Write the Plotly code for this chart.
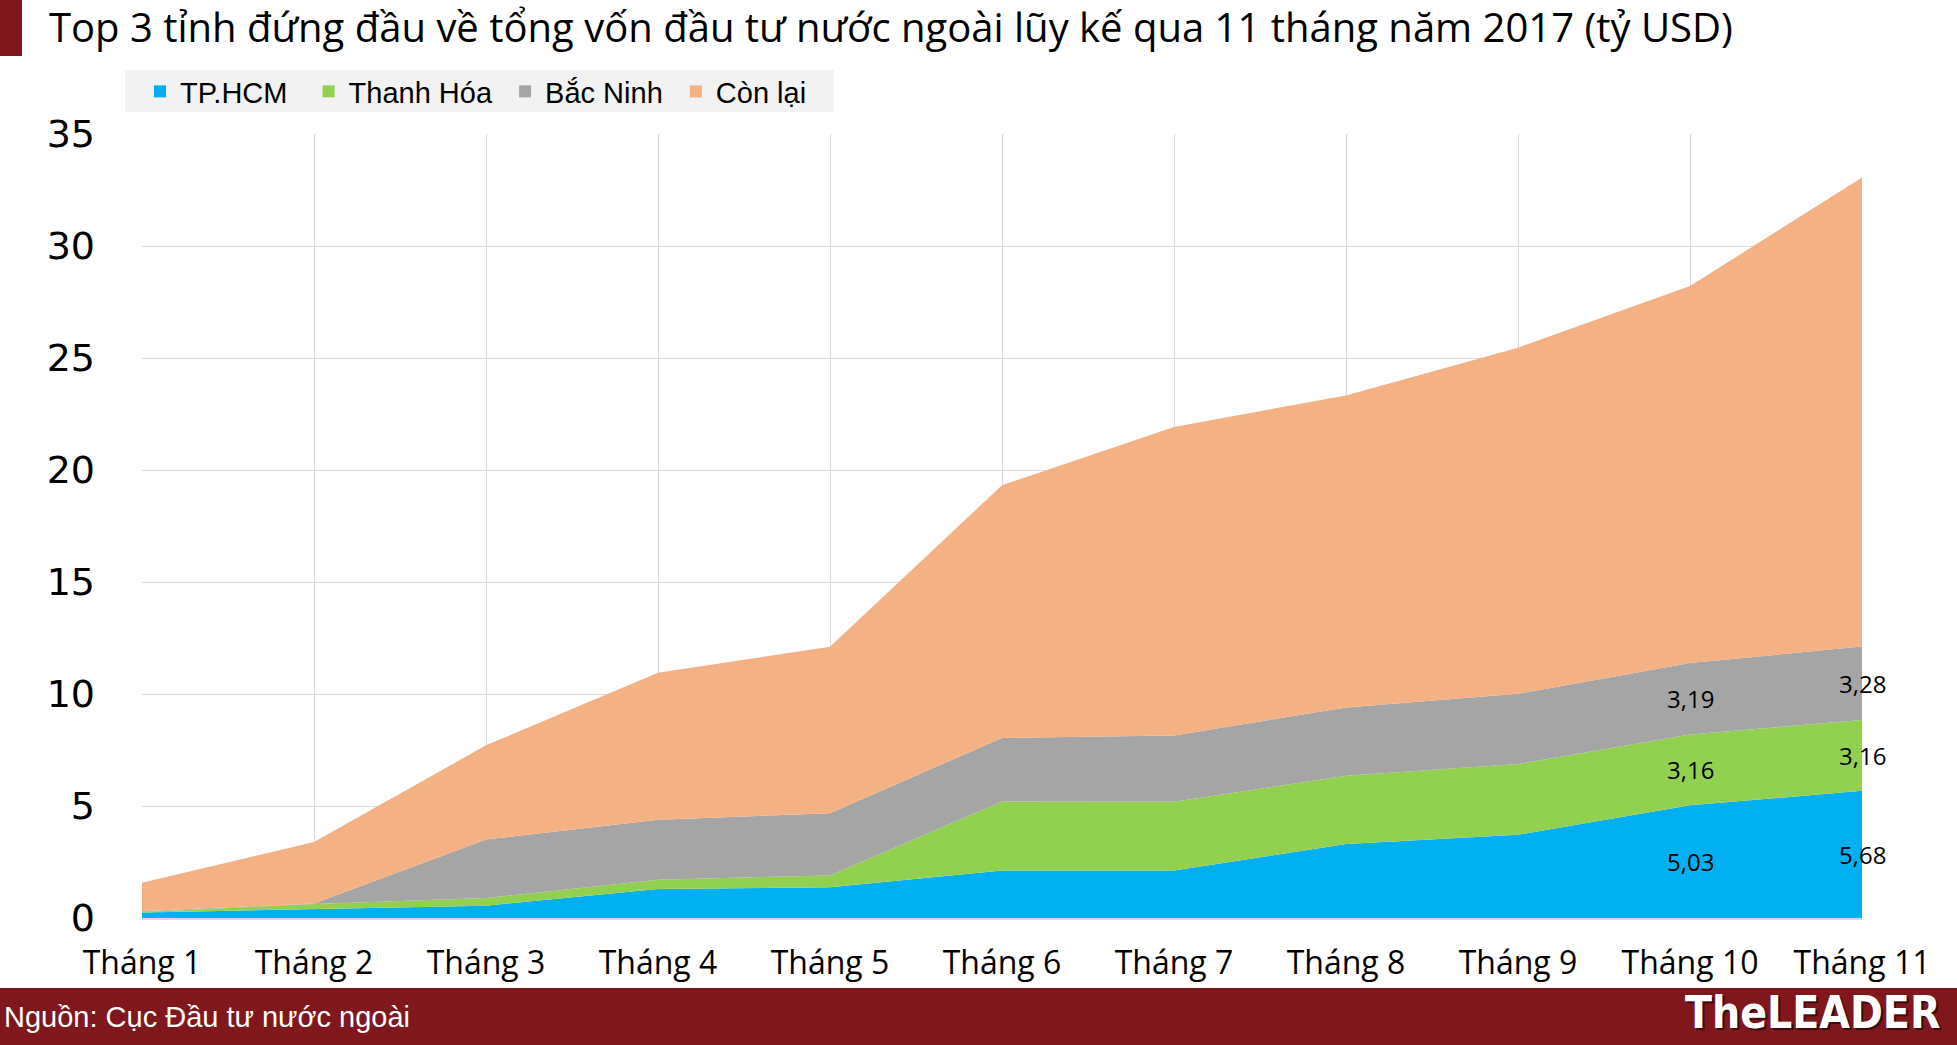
import plotly.graph_objects as go

# ---------------- data ----------------
months = ["Tháng 1", "Tháng 2", "Tháng 3", "Tháng 4", "Tháng 5", "Tháng 6",
          "Tháng 7", "Tháng 8", "Tháng 9", "Tháng 10", "Tháng 11"]
tphcm = [0.24, 0.40, 0.55, 1.29, 1.37, 2.12, 2.12, 3.30, 3.72, 5.03, 5.68]
thanh_hoa = [0.03, 0.22, 0.34, 0.42, 0.53, 3.08, 3.07, 3.05, 3.15, 3.16, 3.16]
bac_ninh = [0.03, 0.03, 2.61, 2.68, 2.78, 2.84, 2.96, 3.05, 3.14, 3.19, 3.28]
con_lai = [1.27, 2.74, 4.21, 6.56, 7.43, 11.28, 13.77, 13.93, 15.45, 16.83, 20.94]
series_names = ["TP.HCM", "Thanh Hóa", "Bắc Ninh", "Còn lại"]
y_ticks = [0, 5, 10, 15, 20, 25, 30, 35]
labelled_months = ["Tháng 10", "Tháng 11"]

title_text = "Top 3 tỉnh đứng đầu về tổng vốn đầu tư nước ngoài lũy kế qua 11 tháng năm 2017 (tỷ USD)"
source_text = "Nguồn: Cục Đầu tư nước ngoài"
brand_text = "TheLEADER"

# ---------------- layout geometry ----------------
W, H = 1957, 1045
L, R, T, B = 142, 1862, 134, 918  # plot area in px


def px_x(px):
    return (px - L) / (R - L)


def px_y(py):
    return (B - py) / (B - T)


colors = ["#00b0f0", "#92d050", "#a5a5a5", "#f4b183"]
series = [tphcm, thanh_hoa, bac_ninh, con_lai]
legend_pad = ["\u00a0\u00a0", "\u00a0", "\u00a0", ""]

fig = go.Figure()
for name, vals, col in zip(series_names, series, colors):
    fig.add_trace(go.Scatter(
        x=months, y=vals, name=name, mode="lines", stackgroup="one",
        line=dict(width=0, color=col), fillcolor=col, showlegend=False,
        hoverinfo="x+y+name"))

# legend entries as small squares
for name, col, pad in zip(series_names, colors, legend_pad):
    fig.add_trace(go.Scatter(
        x=[None], y=[None], name=name + pad, mode="markers",
        marker=dict(symbol="square", size=13, color=col), showlegend=True))

# data labels (centered in each band) for last two months
annotations = []
for m in labelled_months:
    i = months.index(m)
    base = 0.0
    for vals in series[:3]:
        v = vals[i]
        annotations.append(dict(
            x=m, y=base + v / 2, xref="x", yref="y",
            text=f"{v:.2f}".replace(".", ","), showarrow=False,
            font=dict(family="Open Sans, sans-serif", size=24, color="#000000"),
            xanchor="center", yanchor="middle"))
        base += v

# title
annotations.append(dict(
    x=px_x(47), y=px_y(27), xref="paper", yref="paper", text=title_text,
    showarrow=False, xanchor="left", yanchor="middle",
    font=dict(family="Open Sans, sans-serif", size=40, color="#000000")))
# source
annotations.append(dict(
    x=px_x(2), y=px_y(1017), xref="paper", yref="paper", text=source_text,
    showarrow=False, xanchor="left", yanchor="middle",
    font=dict(family="Liberation Sans, Arial, sans-serif", size=29, color="#ffffff")))
# brand
annotations.append(dict(
    x=px_x(1942), y=px_y(1012), xref="paper", yref="paper", text=f"<b>{brand_text}</b>",
    showarrow=False, xanchor="right", yanchor="middle",
    font=dict(family="Liberation Sans Narrow, DejaVu Sans Condensed, Arial Narrow, sans-serif",
              size=44, color="#ffffff", shadow="2px 2px 0px #3a0a0c")))

shapes = [
    dict(type="rect", xref="paper", yref="paper", x0=px_x(0), x1=px_x(22),
         y0=px_y(56), y1=px_y(0), fillcolor="#7f171c", line=dict(width=0)),
    dict(type="rect", xref="paper", yref="paper", x0=px_x(0), x1=px_x(W),
         y0=px_y(H), y1=px_y(988), fillcolor="#7f171c", line=dict(width=0)),
    # legend background box
    dict(type="rect", xref="paper", yref="paper", x0=px_x(125), x1=px_x(834),
         y0=px_y(112), y1=px_y(70), fillcolor="#f2f2f2", line=dict(width=0),
         layer="below"),
]

fig.update_layout(
    width=W, height=H,
    margin=dict(l=L, r=W - R, t=T, b=H - B, autoexpand=False),
    paper_bgcolor="#ffffff", plot_bgcolor="#ffffff",
    showlegend=True,
    legend=dict(orientation="h", x=px_x(140), y=px_y(66), xanchor="left", yanchor="top",
                traceorder="normal",
                bgcolor="rgba(0,0,0,0)", font=dict(family="Liberation Sans, Arial, sans-serif",
                                                   size=29, color="#000000"),
                itemsizing="constant"),
    annotations=annotations, shapes=shapes,
    xaxis=dict(type="category", range=[0, len(months) - 1], showgrid=True,
               gridcolor="#d9d9d9", gridwidth=1, showline=True, linecolor="#d9d9d9",
               linewidth=2, zeroline=False, ticks="", ticklabelstandoff=16,
               tickfont=dict(family="Open Sans, sans-serif", size=32, color="#000000"),
               fixedrange=True),
    yaxis=dict(range=[0, 35], tickvals=y_ticks, showgrid=True, gridcolor="#d9d9d9",
               gridwidth=1, zeroline=False, showline=False, ticks="",
               ticklabelstandoff=46,
               tickfont=dict(family="DejaVu Sans, sans-serif", size=38, color="#000000"),
               fixedrange=True),
)

fig.write_html("out.html")
